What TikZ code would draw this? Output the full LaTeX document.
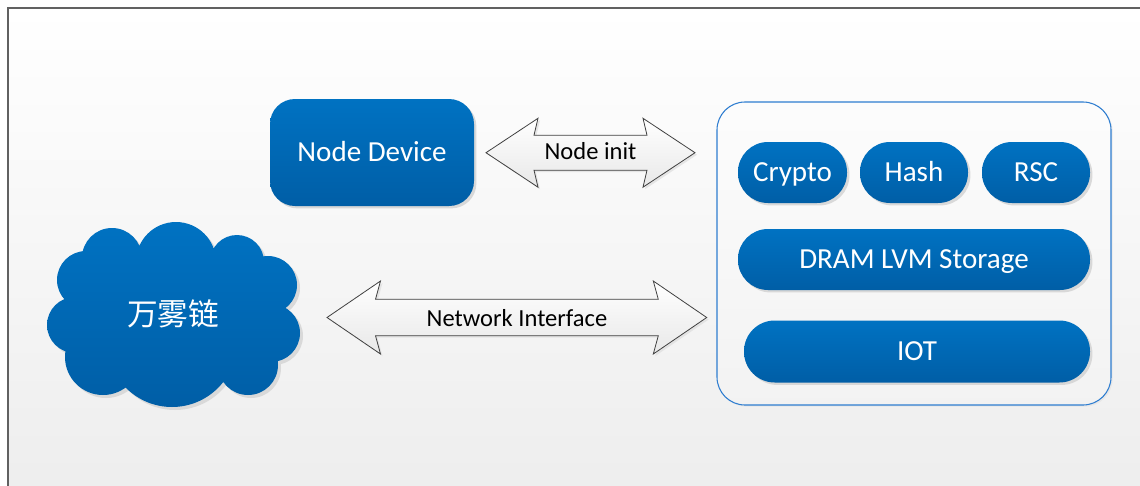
\documentclass[tikz,border=0pt]{standalone}
\usepackage{fontspec}
\setmainfont{Carlito}
\newfontfamily\cjk{Noto Sans CJK SC}
\usetikzlibrary{shadows}
\definecolor{blueT}{HTML}{0072C2}
\definecolor{blueB}{HTML}{005EA6}
\definecolor{frameblue}{HTML}{2E7DD0}
\definecolor{arrowline}{HTML}{404040}
\tikzset{
  pill/.style={shape=rectangle, rounded corners=22.5pt, top color=blueT, bottom color=blueB,
    text=white, font=\fontsize{21.8}{24}\selectfont, inner sep=0pt, minimum height=45.75pt,
    text height=14.0pt, text depth=0pt,
    drop shadow={shadow xshift=1.8pt, shadow yshift=-1.8pt, fill=black!18, opacity=0.8}},
  dblarr/.style={top color=white, bottom color=black!9, draw=arrowline, line width=0.6pt, line join=miter,
    drop shadow={shadow xshift=1.5pt, shadow yshift=-1.5pt, fill=black!12, opacity=0.8}},
  arrtext/.style={text=black, font=\fontsize{18.4}{21}\selectfont, inner sep=0pt,
    text height=11.85pt, text depth=0pt},
}
\begin{document}
\begin{tikzpicture}[x=0.75pt,y=-0.75pt]
\useasboundingbox (0,0) rectangle (1140,486);
% background panel
\shade[top color=white, bottom color=black!7] (8,8) rectangle (1160,500);
\draw[draw=black!62, line width=1.4pt] (1160,8) -- (8,8) -- (8,500);

% cloud shadow
\begin{scope}[shift={(3,3)}]
\fill[black!15]
  (112,258) circle (30) (176,262) circle (40) (237,262) circle (27) (268,285) circle (29)
  (271,333) circle (29) (248,365) circle (30) (172,342) circle (65) (103,357) circle (38)
  (75,325) circle (28) (86,280) circle (29) (172,315) ellipse (105 and 65);
\end{scope}
% cloud
\shade[top color=blueT, bottom color=blueB]
  (112,258) circle (30) (176,262) circle (40) (237,262) circle (27) (268,285) circle (29)
  (271,333) circle (29) (248,365) circle (30) (172,342) circle (65) (103,357) circle (38)
  (75,325) circle (28) (86,280) circle (29) (172,315) ellipse (105 and 65);
\node[text=white, font=\cjk\fontsize{23}{26}\selectfont, inner sep=0pt] (cloud) at (173,314) {万雾链};

% node device
\node[pill, rounded corners=18.75pt, minimum width=153pt, minimum height=80.25pt] (nd) at (372,152.5) {Node Device};

% container
\node[shape=rectangle, rounded corners=21pt, draw=frameblue, line width=0.8pt,
  top color=black!1, bottom color=black!5, minimum width=295.5pt, minimum height=227.25pt,
  drop shadow={shadow xshift=1.2pt, shadow yshift=-1.2pt, fill=black!10, opacity=0.8}] (box) at (914,253.5) {};

\node[pill, minimum width=81.75pt] (crypto) at (792.5,172.5) {Crypto};
\node[pill, minimum width=81pt] (hash) at (914,172.5) {Hash};
\node[pill, minimum width=81pt] (rsc) at (1036,172.5) {RSC};
\node[pill, minimum width=264pt] (dram) at (914,259.5) {DRAM LVM Storage};
\node[pill, minimum width=259.5pt, minimum height=46.5pt, rounded corners=23pt] (iot) at (917,351.5) {IOT};

% Node init double arrow
\path[dblarr] (486,152.7) -- (538,118.3) -- (534,135.2) -- (647,135.2) -- (643,118.3) -- (695,152.7)
  -- (643,187.2) -- (647,170.2) -- (534,170.2) -- (538,187.2) -- cycle;
\node[arrtext] (ninit) at (590.5,151.5) {Node init};

% Network Interface double arrow
\path[dblarr] (327,317.5) -- (380.5,281) -- (375.5,299.3) -- (658.3,299.3) -- (653.3,281) -- (706.7,317.5)
  -- (653.3,354) -- (658.3,335.7) -- (375.5,335.7) -- (380.5,354) -- cycle;
\node[arrtext] (net) at (517,318.3) {Network Interface};
\end{tikzpicture}
\end{document}
